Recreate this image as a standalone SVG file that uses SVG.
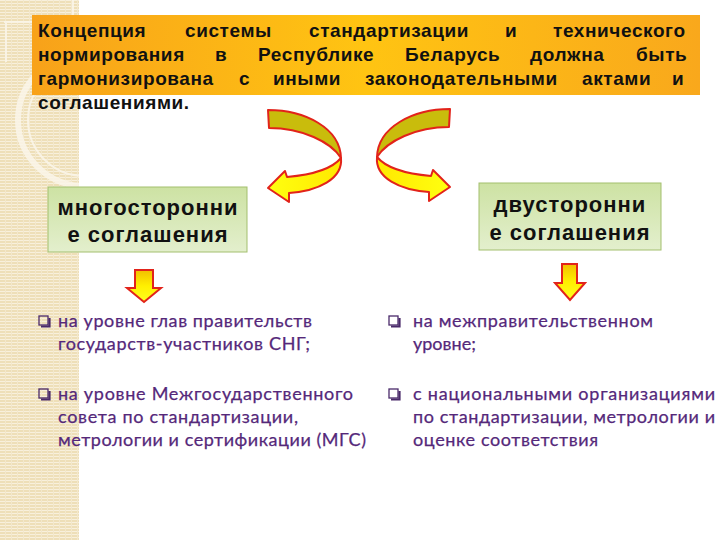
<svg xmlns="http://www.w3.org/2000/svg" width="720" height="540" viewBox="0 0 720 540">
<defs>
<pattern id="stripes" width="6" height="3" patternUnits="userSpaceOnUse">
<rect width="6" height="3" fill="#EEDFB8"/>
<rect width="6" height="1" fill="#F8F0DC"/>
<rect x="5" width="1" height="3" fill="#F3E8CC"/>
</pattern>
<clipPath id="stripClip"><rect x="0" y="0" width="79" height="540"/></clipPath>
<linearGradient id="bannerGrad" x1="0" y1="0" x2="1" y2="0">
<stop offset="0" stop-color="#F8A21A"/>
<stop offset="0.5" stop-color="#FFC412"/>
<stop offset="1" stop-color="#F9A81C"/>
</linearGradient>
<linearGradient id="boxGrad" x1="0" y1="0" x2="0" y2="1">
<stop offset="0" stop-color="#CDE2A3"/>
<stop offset="1" stop-color="#E3EFCD"/>
</linearGradient>
<linearGradient id="downGrad" x1="0" y1="0" x2="0" y2="1">
<stop offset="0" stop-color="#F2BE00"/>
<stop offset="0.5" stop-color="#FFF000"/>
<stop offset="1" stop-color="#FFFF20"/>
</linearGradient>
<linearGradient id="frontGrad" x1="0" y1="0" x2="1" y2="0">
<stop offset="0" stop-color="#FFFF10"/>
<stop offset="1" stop-color="#FFE800"/>
</linearGradient>
<style>
.banner { font-family: "Liberation Sans", Arial, sans-serif; font-weight: bold; font-size: 19px; fill: #111; letter-spacing: 0.6px; }
.boxtxt { font-family: "Liberation Sans", Arial, sans-serif; font-weight: bold; font-size: 22px; fill: #111; letter-spacing: 1px; text-anchor: middle; }
.bul { font-family: Lato, "Open Sans", sans-serif; font-size: 18px; fill: #55287A; stroke: #55287A; stroke-width: 0.25px; }
.box { fill: url(#boxGrad); stroke: #A3BF6E; stroke-width: 1; }
.curveBack { fill: #C9BC0C; stroke: #E2231A; stroke-width: 2; stroke-linejoin: round; }
.curveFront { fill: url(#frontGrad); stroke: #E2231A; stroke-width: 2; stroke-linejoin: round; }
.down { fill: url(#downGrad); stroke: #E2231A; stroke-width: 2; stroke-linejoin: miter; }
.chk { fill: none; stroke: #4A2A6A; stroke-width: 1.3; }
.chkShadow { fill: none; stroke: #4A2A6A; stroke-width: 2.2; }
</style>
</defs>

<rect x="0" y="0" width="720" height="540" fill="#FFFFFF"/>

<g id="side-strip">
<rect x="0" y="0" width="79" height="540" fill="url(#stripes)"/>
<g clip-path="url(#stripClip)" fill="none" stroke="#FBF6EA" opacity="0.85">
<circle cx="84" cy="120" r="66" stroke-width="6"/>
<circle cx="84" cy="120" r="56" stroke-width="2"/>
<path d="M4,22 H79 M6,22 V62 M73,0 V22" stroke-width="2"/>
</g>
</g>

<g id="banner">
<rect x="32" y="15" width="668" height="80" fill="url(#bannerGrad)"/>
<text class="banner" y="37">
<tspan x="38">Концепция</tspan><tspan x="185">системы</tspan><tspan x="309">стандартизации</tspan><tspan x="505">и</tspan><tspan x="553">технического</tspan>
</text>
<text class="banner" y="61">
<tspan x="38">нормирования</tspan><tspan x="215">в</tspan><tspan x="258">Республике</tspan><tspan x="405">Беларусь</tspan><tspan x="530">должна</tspan><tspan x="636">быть</tspan>
</text>
<text class="banner" y="85">
<tspan x="38">гармонизирована</tspan><tspan x="239">с</tspan><tspan x="273">иными</tspan><tspan x="365">законодательными</tspan><tspan x="582">актами</tspan><tspan x="672">и</tspan>
</text>
<text class="banner" y="109"><tspan x="38">соглашениями.</tspan></text>
</g>

<g id="node-multilateral">
<rect class="box" x="48" y="187" width="199" height="65"/>
<text class="boxtxt" x="148" y="215">многосторонни</text>
<text class="boxtxt" x="148" y="242">е соглашения</text>
</g>

<g id="node-bilateral">
<rect class="box" x="479" y="183" width="182" height="67"/>
<text class="boxtxt" x="570" y="212">двусторонни</text>
<text class="boxtxt" x="570" y="240">е соглашения</text>
</g>

<g id="connectors">
<g id="curve-left">
<path class="curveBack" d="M268,110 C305,110 340,128 341,158 C331,142 302,128 269,128 Z"/>
<path class="curveFront" d="M341,158 C343,179 318,191 289,193 L289,202 L268,188 L285,171 L287,177 C310,175 331,170 341,158 Z"/>
</g>
<g id="curve-right" transform="translate(718,-1) scale(-1,1)">
<path class="curveBack" d="M268,110 C305,110 340,128 341,158 C331,142 302,128 269,128 Z"/>
<path class="curveFront" d="M341,158 C343,179 318,191 289,193 L289,202 L268,188 L285,171 L287,177 C310,175 331,170 341,158 Z"/>
</g>
<path id="down-left" class="down" d="M135,270 H153 V288 H161 L144,302 L127,288 H135 Z"/>
<path id="down-right" class="down" d="M562,264 H577 V283 H585 L570,300 L555,283 H562 Z"/>
</g>

<g id="list-multilateral">
<g id="bullet-l1">
<rect class="chk" x="39" y="316" width="9" height="9"/>
<path class="chkShadow" d="M41,326.5 H49.5 V318"/>
<text class="bul" x="58" y="327" textLength="254">на уровне глав правительств</text>
<text class="bul" x="58" y="350" textLength="252">государств-участников СНГ;</text>
</g>
<g id="bullet-l2">
<rect class="chk" x="39" y="389" width="9" height="9"/>
<path class="chkShadow" d="M41,399.5 H49.5 V391"/>
<text class="bul" x="58" y="400" textLength="295">на уровне Межгосударственного</text>
<text class="bul" x="58" y="423" textLength="240">совета по стандартизации,</text>
<text class="bul" x="58" y="446" textLength="308">метрологии и сертификации (МГС)</text>
</g>
</g>

<g id="list-bilateral">
<g id="bullet-r1">
<rect class="chk" x="389" y="316" width="9" height="9"/>
<path class="chkShadow" d="M391,326.5 H399.5 V318"/>
<text class="bul" x="413" y="327" textLength="240">на межправительственном</text>
<text class="bul" x="413" y="350">уровне;</text>
</g>
<g id="bullet-r2">
<rect class="chk" x="389" y="389" width="9" height="9"/>
<path class="chkShadow" d="M391,399.5 H399.5 V391"/>
<text class="bul" x="413" y="400" textLength="302">с национальными организациями</text>
<text class="bul" x="413" y="423" textLength="302">по стандартизации, метрологии и</text>
<text class="bul" x="413" y="446" textLength="185">оценке соответствия</text>
</g>
</g>
</svg>
